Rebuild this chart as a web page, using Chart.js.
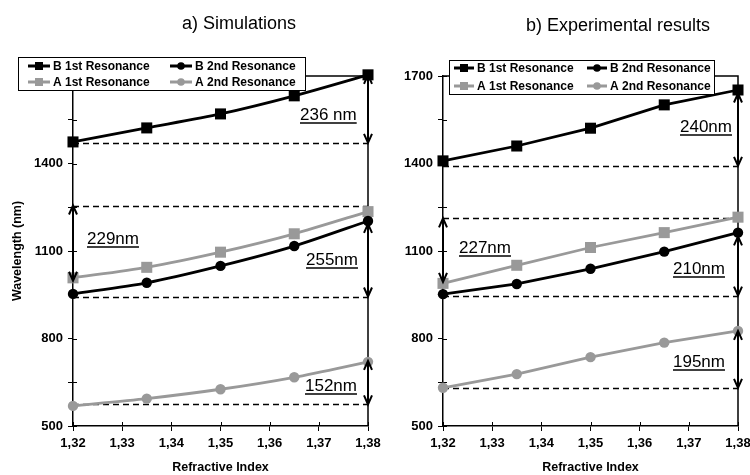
<!DOCTYPE html>
<html>
<head>
<meta charset="utf-8">
<script src="https://cdn.jsdelivr.net/npm/chart.js@4.4.1/dist/chart.umd.min.js"></script>
<style>
  html, body { margin: 0; padding: 0; background: #fff; }
  #wrap { position: relative; width: 750px; height: 475px; overflow: hidden; }
  canvas { position: absolute; top: 0; }
</style>
</head>
<body>
<div id="wrap">
  <canvas id="simChart" width="395" height="475" style="left:0"></canvas>
  <canvas id="expChart" width="375" height="475" style="left:375px"></canvas>
</div>
<script>
// refractive index of the analyte
const refIndex = [1.32, 1.335, 1.35, 1.365, 1.38];

// a) simulations, wavelength in nm
const simB1 = [1474, 1522, 1570, 1632, 1704];
const simB2 = [953, 991, 1049, 1117, 1203];
const simA1 = [1008, 1044, 1096, 1159, 1235];
const simA2 = [569, 594, 626, 667, 720];

// b) experimental results, wavelength in nm
const expB1 = [1409, 1460, 1521, 1601, 1652];
const expB2 = [952, 987, 1039, 1098, 1163];
const expA1 = [989, 1051, 1112, 1163, 1216];
const expA2 = [631, 678, 736, 786, 826];

const seriesNames = ['B 1st Resonance', 'B 2nd Resonance', 'A 1st Resonance', 'A 2nd Resonance'];

const xTicks = [1.32, 1.33, 1.34, 1.35, 1.36, 1.37, 1.38];
const yTicks = [500, 650, 800, 950, 1100, 1250, 1400, 1550, 1700];
const yLabels = [500, 800, 1100, 1400, 1700];

// shift annotations: text, dashed base level, arrow end, arrow position on x
const simGapText = ['236 nm', '229nm', '255nm', '152nm'];
const simGapBase = [1471, 1256, 944, 574];
const simGapEnd = [1704, 998, 1193, 723];
const simGapAt = [1.38, 1.32, 1.38, 1.38];

const expGapText = ['240nm', '227nm', '210nm', '195nm'];
const expGapBase = [1392, 1212, 947, 631];
const expGapEnd = [1640, 994, 1150, 826];
const expGapAt = [1.38, 1.32, 1.38, 1.38];

Chart.defaults.font.family = '"Liberation Sans", Arial, sans-serif';
Chart.defaults.color = '#000';

const BLACK = '#000000';
const GREY = '#999999';

function series(label, values, color, style) {
  return {
    label,
    data: values.map((v, i) => ({ x: refIndex[i], y: v })),
    borderColor: color,
    backgroundColor: color,
    borderWidth: 2.8,
    pointStyle: style,
    pointRadius: style === 'rect' ? 7.8 : 5.2,
    pointBorderWidth: 0,
    clip: false,
  };
}

function line(ctx, x0, y0, x1, y1) {
  ctx.beginPath();
  ctx.moveTo(x0, y0);
  ctx.lineTo(x1, y1);
  ctx.stroke();
}

function drawArrow(ctx, x, y0, y1) {
  line(ctx, x, y0, x, y1);
  [[y0, y1], [y1, y0]].forEach(([tip, from]) => {
    const d = Math.sign(from - tip);
    ctx.beginPath();
    ctx.moveTo(x - 4, tip + d * 9);
    ctx.lineTo(x, tip);
    ctx.lineTo(x + 4, tip + d * 9);
    ctx.stroke();
  });
}

const paperPlugin = {
  id: 'paper',
  beforeDatasetsDraw(chart, args, opts) {
    const { ctx, chartArea: a, scales: { x, y } } = chart;
    ctx.save();
    ctx.strokeStyle = BLACK;
    // dashed reference levels
    ctx.lineWidth = 1.3;
    ctx.setLineDash([6, 4]);
    opts.base.forEach(v => {
      const py = Math.round(y.getPixelForValue(v)) + 0.5;
      line(ctx, a.left, py, a.right, py);
    });
    ctx.setLineDash([]);
    // frame top + right
    ctx.lineWidth = 1.5;
    ctx.beginPath();
    ctx.moveTo(a.left, a.top);
    ctx.lineTo(a.right, a.top);
    ctx.lineTo(a.right, a.bottom);
    ctx.stroke();
    // inner halves of the tick marks
    ctx.lineWidth = 1;
    y.ticks.forEach(t => {
      const py = Math.round(y.getPixelForValue(t.value)) + 0.5;
      line(ctx, a.left, py, a.left + 4, py);
    });
    x.ticks.forEach(t => {
      const px = Math.round(x.getPixelForValue(t.value)) + 0.5;
      line(ctx, px, a.bottom, px, a.bottom - 4);
    });
    ctx.restore();
  },
  afterDraw(chart, args, opts) {
    const { ctx, scales: { x, y } } = chart;
    ctx.save();
    // arrows and underlined labels
    ctx.strokeStyle = BLACK;
    ctx.fillStyle = BLACK;
    ctx.lineWidth = 2;
    opts.text.forEach((txt, i) => {
      const px = x.getPixelForValue(opts.at[i]);
      drawArrow(ctx, px, y.getPixelForValue(opts.base[i]), y.getPixelForValue(opts.end[i]));
      const [lx, ly] = opts.labelPos[i];
      ctx.font = '17px "Liberation Sans", Arial, sans-serif';
      ctx.textAlign = 'left';
      ctx.textBaseline = 'middle';
      ctx.fillText(txt, lx, ly);
      const w = ctx.measureText(txt).width;
      ctx.lineWidth = 1.5;
      line(ctx, lx, ly + 8, lx + w, ly + 8);
      ctx.lineWidth = 2;
    });
    // legend box drawn over the plot corner
    const L = opts.legend;
    ctx.fillStyle = '#fff';
    ctx.fillRect(L.x, L.y, L.w, L.h);
    ctx.strokeStyle = BLACK;
    ctx.lineWidth = 1;
    ctx.strokeRect(L.x + 0.5, L.y + 0.5, L.w, L.h);
    ctx.font = 'bold 12px "Liberation Sans", Arial, sans-serif';
    ctx.textBaseline = 'middle';
    chart.data.datasets.forEach((ds, i) => {
      const lx = L.x + L.cols[i % 2];
      const ly = L.y + L.rows[Math.floor(i / 2)];
      ctx.strokeStyle = ds.borderColor;
      ctx.fillStyle = ds.borderColor;
      ctx.lineWidth = 3;
      line(ctx, lx, ly, lx + L.seg, ly);
      const cx = lx + L.seg / 2;
      if (ds.pointStyle === 'rect') {
        ctx.fillRect(cx - 4, ly - 4, 8, 8);
      } else {
        ctx.beginPath();
        ctx.arc(cx, ly, 3.8, 0, Math.PI * 2);
        ctx.fill();
      }
      ctx.fillStyle = BLACK;
      ctx.fillText(ds.label, lx + L.seg + 3, ly + 0.5);
    });
    // panel title
    ctx.font = '18px "Liberation Sans", Arial, sans-serif';
    ctx.textAlign = 'center';
    ctx.fillText(opts.title[0], opts.title[1], opts.title[2]);
    ctx.restore();
  },
};

function makePanel(canvasId, values, tension, yAxisWidth, rightPad, showYTitle, annot) {
  const ctx = document.getElementById(canvasId).getContext('2d');
  return new Chart(ctx, {
    type: 'line',
    data: {
      datasets: [
        series(seriesNames[0], values[0], BLACK, 'rect'),
        series(seriesNames[1], values[1], BLACK, 'circle'),
        series(seriesNames[2], values[2], GREY, 'rect'),
        series(seriesNames[3], values[3], GREY, 'circle'),
      ].map(ds => ({ ...ds, tension })),
    },
    options: {
      responsive: false,
      animation: false,
      devicePixelRatio: 1,
      layout: { padding: { top: 76, right: rightPad, bottom: 0, left: 0 } },
      plugins: {
        legend: { display: false },
        tooltip: { enabled: false },
        paper: annot,
      },
      scales: {
        x: {
          type: 'linear',
          min: 1.32,
          max: 1.38,
          afterBuildTicks: s => { s.ticks = xTicks.map(v => ({ value: v })); },
          afterFit: s => { s.height = 49; s.paddingLeft = 0; s.paddingRight = 0; },
          ticks: {
            font: { size: 13, weight: 'bold' },
            padding: 5,
            maxRotation: 0,
            callback: v => v.toFixed(2).replace('.', ','),
          },
          grid: { drawOnChartArea: false, drawTicks: true, tickLength: 5, color: BLACK },
          border: { color: BLACK, width: 1.5 },
          title: {
            display: true,
            text: 'Refractive Index',
            font: { size: 12.5, weight: 'bold' },
            padding: { top: 0, bottom: 0 },
          },
        },
        y: {
          min: 500,
          max: 1700,
          afterBuildTicks: s => { s.ticks = yTicks.map(v => ({ value: v })); },
          afterFit: s => { s.width = yAxisWidth; s.paddingTop = 0; s.paddingBottom = 0; },
          ticks: {
            font: { size: 13, weight: 'bold' },
            padding: 5,
            callback: v => (yLabels.includes(v) ? String(v) : ''),
          },
          grid: { drawOnChartArea: false, drawTicks: true, tickLength: 5, color: BLACK },
          border: { color: BLACK, width: 1.5 },
          title: {
            display: showYTitle,
            text: 'Wavelength (nm)',
            font: { size: 12.5, weight: 'bold' },
            padding: { top: 10, bottom: 0 },
          },
        },
      },
    },
    plugins: [paperPlugin],
  });
}

makePanel('simChart', [simB1, simB2, simA1, simA2], 0.25, 73, 27, true, {
  text: simGapText, base: simGapBase, end: simGapEnd, at: simGapAt,
  labelPos: [[300, 115], [87, 239], [306, 260], [305, 386]],
  legend: { x: 18, y: 57, w: 287, h: 33, cols: [10, 152], rows: [9, 25], seg: 22 },
  title: ['a) Simulations', 239, 24],
});

makePanel('expChart', [expB1, expB2, expA1, expA2], 0, 68, 12, false, {
  text: expGapText, base: expGapBase, end: expGapEnd, at: expGapAt,
  labelPos: [[305, 127], [84, 248], [298, 269], [298, 362]],
  legend: { x: 74, y: 60, w: 265, h: 34, cols: [5, 138], rows: [8, 26], seg: 20 },
  title: ['b) Experimental results', 243, 26],
});
</script>
</body>
</html>
